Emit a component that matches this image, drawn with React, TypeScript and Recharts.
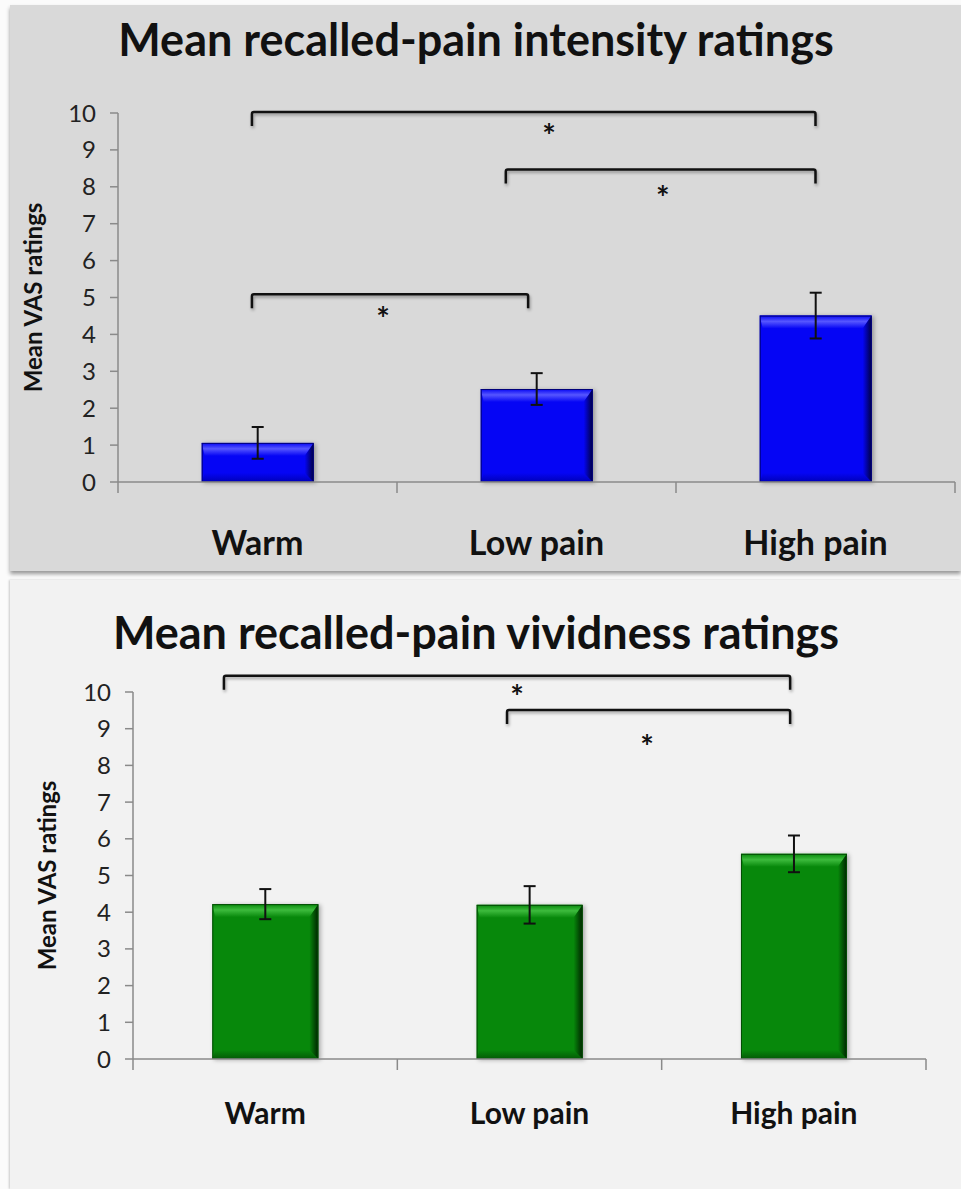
import React from "react"
import {
  BarChart,
  Bar,
  ScatterChart,
  XAxis,
  YAxis,
  ErrorBar,
  ReferenceLine,
  ReferenceDot,
} from "recharts"

const CATEGORIES = ["Warm", "Low pain", "High pain"]
const Y_TICKS = [0, 1, 2, 3, 4, 5, 6, 7, 8, 9, 10]
const BOUNDARY_TICKS = [0, 1, 2, 3]

// recalled-pain intensity (mean VAS, +/- error)
const INTENSITY_MEAN = [1.06, 2.52, 4.51]
const INTENSITY_ERR = [0.43, 0.43, 0.62]
// significance brackets, x in category units (0..3), y in rating units
const INTENSITY_BRACKET_FROM = [0.48, 1.39, 0.48]
const INTENSITY_BRACKET_TO = [2.5, 2.5, 1.47]
const INTENSITY_BRACKET_LEVEL = [10.03, 8.47, 5.09]
const INTENSITY_STAR_X = [1.545, 1.953, 0.95]
const INTENSITY_STAR_Y = [9.57, 7.89, 4.61]

// recalled-pain vividness
const VIVIDNESS_MEAN = [4.22, 4.2, 5.59]
const VIVIDNESS_ERR = [0.41, 0.51, 0.5]
const VIVIDNESS_BRACKET_FROM = [0.344, 1.415]
const VIVIDNESS_BRACKET_TO = [2.486, 2.486]
const VIVIDNESS_BRACKET_LEVEL = [10.44, 9.51]
const VIVIDNESS_STAR_X = [1.453, 1.945]
const VIVIDNESS_STAR_Y = [10.05, 8.69]

const FONT = "Lato, 'Open Sans', sans-serif"
const AXIS_GRAY = "#8a8a8a"
const INK = "#111"

type Palette = { base: string; light: string; dark: string; deep: string; edge: string }

const BLUE: Palette = { base: "#0505f5", light: "#5656ff", dark: "#0000b8", deep: "#000040", edge: "#00007a" }
const GREEN: Palette = { base: "#07880b", light: "#3dbb3d", dark: "#045a06", deep: "#002200", edge: "#034c04" }

function BevelBar(props: any) {
  const { x, y, width: w, height: h, index, palette, gid } = props
  if (!w || !h) return null
  const p: Palette = palette
  const b = Math.min(13, h / 2)
  const side = Math.min(9, w / 4)
  const id = `${gid}-${index}`
  return (
    <g style={{ filter: "drop-shadow(2px 1px 2px rgba(0,0,0,0.3))" }}>
      <defs>
        <linearGradient id={`${id}-t`} x1="0" y1="0" x2="0" y2="1">
          <stop offset="0%" stopColor={p.base} />
          <stop offset="45%" stopColor={p.light} />
          <stop offset="100%" stopColor={p.base} />
        </linearGradient>
        <linearGradient id={`${id}-r`} x1="0" y1="0" x2="1" y2="0">
          <stop offset="0%" stopColor={p.base} />
          <stop offset="100%" stopColor={p.deep} />
        </linearGradient>
        <linearGradient id={`${id}-b`} x1="0" y1="0" x2="0" y2="1">
          <stop offset="0%" stopColor={p.base} />
          <stop offset="100%" stopColor={p.dark} />
        </linearGradient>
      </defs>
      <rect x={x} y={y} width={w} height={h} fill={p.base} />
      <polygon
        points={`${x},${y} ${x + w},${y} ${x + w - side},${y + b} ${x + 3},${y + b}`}
        fill={`url(#${id}-t)`}
      />
      <polygon
        points={`${x},${y + h} ${x + w},${y + h} ${x + w - side},${y + h - b * 0.7} ${x + 3},${y + h - b * 0.7}`}
        fill={`url(#${id}-b)`}
      />
      <polygon
        points={`${x + w},${y} ${x + w},${y + h} ${x + w - side},${y + h - b * 0.7} ${x + w - side},${y + b}`}
        fill={`url(#${id}-r)`}
      />
      <rect x={x + 0.5} y={y + 0.5} width={w - 1} height={h - 1} fill="none" stroke={p.edge} strokeWidth={1} />
    </g>
  )
}

function Bracket(props: any) {
  const { x1, y1, x2, y2 } = props
  const drop = 14
  return (
    <path
      d={`M${x1},${y1 + drop} L${x1},${y1 + 2} Q${x1},${y1} ${x1 + 2},${y1} L${x2 - 2},${y2} Q${x2},${y2} ${x2},${y2 + 2} L${x2},${y2 + drop}`}
      fill="none"
      stroke={INK}
      strokeWidth={2.5}
      style={{ filter: "drop-shadow(1px 2px 1.5px rgba(0,0,0,0.35))" }}
    />
  )
}

function Star(props: any) {
  const { cx, cy } = props
  return (
    <text x={cx} y={cy + 19} textAnchor="middle" fontSize={32} fontWeight={700} fill={INK}>
      *
    </text>
  )
}

type PanelChartProps = {
  gid: string
  means: number[]
  errs: number[]
  palette: Palette
  bracketFrom: number[]
  bracketTo: number[]
  bracketLevel: number[]
  starX: number[]
  starY: number[]
  width: number
  height: number
  top: number
  right: number
  bottomSpace: number
  yAxisWidth: number
  yLabelOffset: number
  catFont: number
  catMargin: number
}

function PanelChart(c: PanelChartProps) {
  const data = CATEGORIES.map((name, i) => ({ name, mean: c.means[i], err: c.errs[i] }))
  return (
    <div style={{ position: "relative", width: c.width, height: c.height }}>
      {/* bars, value axis and category labels */}
      <BarChart
        width={c.width}
        height={c.height}
        data={data}
        margin={{ top: c.top, right: c.right, bottom: 0, left: 0 }}
        barCategoryGap="30%"
      >
        <XAxis
          dataKey="name"
          interval={0}
          axisLine={false}
          tickLine={false}
          tickSize={0}
          tickMargin={c.catMargin}
          height={c.bottomSpace}
          tick={{ fontSize: c.catFont, fontWeight: 700, fill: INK }}
        />
        <YAxis
          domain={[0, 10]}
          ticks={Y_TICKS}
          interval={0}
          width={c.yAxisWidth}
          tickSize={8}
          tickMargin={14}
          axisLine={{ stroke: AXIS_GRAY, strokeWidth: 1.5 }}
          tickLine={{ stroke: AXIS_GRAY, strokeWidth: 1.5 }}
          tick={{ fontSize: 24, fill: "#222" }}
          label={{
            value: "Mean VAS ratings",
            angle: -90,
            position: "insideLeft",
            offset: c.yLabelOffset,
            style: { textAnchor: "middle", fontSize: 24, fontWeight: 700, fill: INK },
          }}
        />
        <Bar
          dataKey="mean"
          isAnimationActive={false}
          shape={(p: any) => <BevelBar {...p} palette={c.palette} gid={c.gid} />}
        >
          <ErrorBar dataKey="err" direction="y" width={6} strokeWidth={2} stroke={INK} />
        </Bar>
      </BarChart>

      {/* same plot area on a continuous 0..3 axis: category boundary ticks and significance brackets */}
      <div style={{ position: "absolute", left: 0, top: 0, pointerEvents: "none" }}>
        <ScatterChart
          width={c.width}
          height={c.height}
          margin={{ top: c.top, right: c.right, bottom: 0, left: c.yAxisWidth }}
        >
          <XAxis
            type="number"
            dataKey="x"
            domain={[0, 3]}
            ticks={BOUNDARY_TICKS}
            interval={0}
            allowDataOverflow
            tickFormatter={() => ""}
            tick={{ fontSize: 1 }}
            tickSize={11}
            height={c.bottomSpace}
            axisLine={{ stroke: AXIS_GRAY, strokeWidth: 1.5 }}
            tickLine={{ stroke: AXIS_GRAY, strokeWidth: 1.5 }}
          />
          <YAxis type="number" dataKey="y" domain={[0, 10]} allowDataOverflow hide />
          {c.bracketLevel.map((level, i) => (
            <ReferenceLine
              key={`br-${i}`}
              ifOverflow="visible"
              segment={[
                { x: c.bracketFrom[i], y: level },
                { x: c.bracketTo[i], y: level },
              ]}
              shape={(p: any) => <Bracket {...p} />}
            />
          ))}
          {c.starX.map((sx, i) => (
            <ReferenceDot
              key={`st-${i}`}
              x={sx}
              y={c.starY[i]}
              r={0}
              ifOverflow="visible"
              shape={(p: any) => <Star {...p} />}
            />
          ))}
        </ScatterChart>
      </div>
    </div>
  )
}

const titleStyle: React.CSSProperties = {
  position: "absolute",
  left: 0,
  width: 952,
  textAlign: "center",
  fontWeight: 700,
  fontSize: 45,
  lineHeight: "45px",
  color: INK,
  whiteSpace: "nowrap",
}

export default function App() {
  return (
    <div
      style={{
        position: "absolute",
        left: 0,
        top: 0,
        width: 961,
        height: 1189,
        background: "#fbfbfb",
        fontFamily: FONT,
        overflow: "hidden",
      }}
    >
      {/* upper panel: intensity */}
      <div
        style={{
          position: "absolute",
          left: 10,
          top: 5,
          width: 951,
          height: 566,
          background: "#d9d9d9",
          boxShadow: "0 3px 4px rgba(0,0,0,0.4)",
        }}
      />
      {/* lower panel: vividness */}
      <div
        style={{
          position: "absolute",
          left: 10,
          top: 580,
          width: 951,
          height: 609,
          background: "#f2f2f2",
          boxShadow: "-1px 0 2px rgba(0,0,0,0.2)",
        }}
      />

      <div style={{ ...titleStyle, top: 17 }}>Mean recalled-pain intensity ratings</div>
      <div style={{ ...titleStyle, top: 610 }}>Mean recalled-pain vividness ratings</div>

      <div style={{ position: "absolute", left: 0, top: 0 }}>
        <PanelChart
          gid="int"
          means={INTENSITY_MEAN}
          errs={INTENSITY_ERR}
          palette={BLUE}
          bracketFrom={INTENSITY_BRACKET_FROM}
          bracketTo={INTENSITY_BRACKET_TO}
          bracketLevel={INTENSITY_BRACKET_LEVEL}
          starX={INTENSITY_STAR_X}
          starY={INTENSITY_STAR_Y}
          width={961}
          height={575}
          top={113}
          right={6}
          bottomSpace={93}
          yAxisWidth={118}
          yLabelOffset={33}
          catFont={34}
          catMargin={49}
        />
      </div>

      <div style={{ position: "absolute", left: 0, top: 580 }}>
        <PanelChart
          gid="viv"
          means={VIVIDNESS_MEAN}
          errs={VIVIDNESS_ERR}
          palette={GREEN}
          bracketFrom={VIVIDNESS_BRACKET_FROM}
          bracketTo={VIVIDNESS_BRACKET_TO}
          bracketLevel={VIVIDNESS_BRACKET_LEVEL}
          starX={VIVIDNESS_STAR_X}
          starY={VIVIDNESS_STAR_Y}
          width={961}
          height={609}
          top={112}
          right={35}
          bottomSpace={130}
          yAxisWidth={133}
          yLabelOffset={47}
          catFont={30}
          catMargin={44}
        />
      </div>
    </div>
  )
}
